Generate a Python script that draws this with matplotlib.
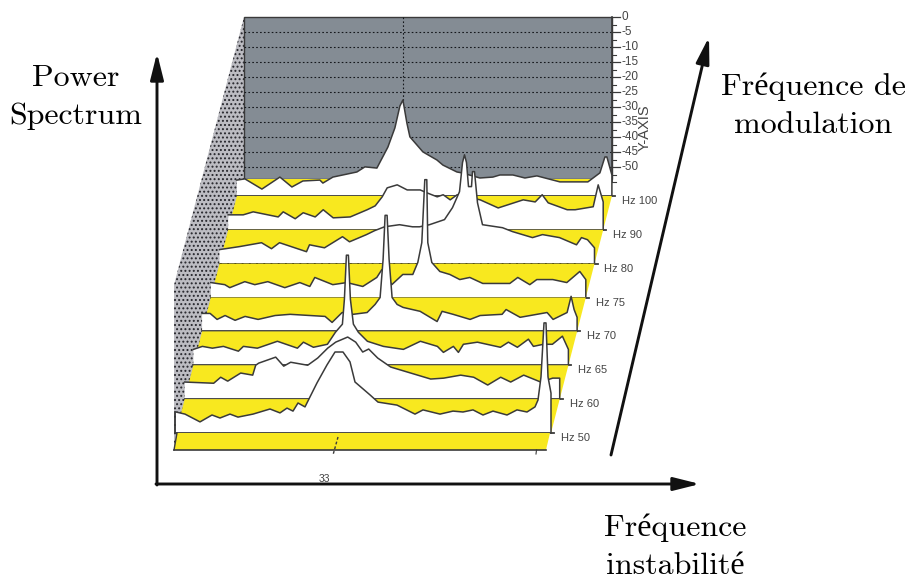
import matplotlib
matplotlib.use('Agg')
import matplotlib.pyplot as plt
from matplotlib.patches import Polygon

# modulation slices, front to back
slice_labels = ['Hz 50', 'Hz 60', 'Hz 65', 'Hz 70', 'Hz 75', 'Hz 80', 'Hz 90', 'Hz 100']

# spectra: frequency (Hz) and level above the noise floor (dB)
f50 = [0, 1.8, 4.8, 7.2, 8.8, 10.8, 12.4, 15.4, 18.8, 20.8, 22.2, 23.4, 24.4, 25.8, 28.2, 30.2, 31.8, 33.4, 34.8, 35.8, 38.8, 40.4, 44.2, 47.8, 49.4, 52.8, 55.4, 57.4, 59.4, 61.4, 63.4, 66.2, 68.2, 70.2, 71.8, 72.4, 73, 73.6, 74, 74.4, 75]
l50 = [7, 6.3, 3.7, 6, 5, 6.3, 5.3, 6.3, 8, 6.7, 8.3, 7.3, 10, 8.7, 16.7, 22.7, 27, 27, 23.7, 17, 12.7, 10.3, 9.3, 6.3, 7.7, 6.3, 7.3, 7, 7.7, 6, 7.3, 6, 7.7, 7, 8.7, 11, 18.7, 36.7, 36.7, 18.7, 13.3]

f60 = [0, 5.8, 7.2, 8.6, 11.2, 13.6, 14.2, 14.8, 18.2, 19.8, 21.2, 24.6, 26.6, 28.6, 30.2, 32.6, 34.2, 35.6, 36.8, 38.6, 41.2, 45.2, 49.2, 51.8, 55.2, 57.8, 60.6, 63.2, 65.2, 67.8, 71.2, 73.6, 75]
l60 = [5.7, 5.3, 7.3, 6, 8.7, 8, 11.3, 12, 14, 11, 12.3, 11.3, 13.7, 17, 19, 20.7, 19, 15.7, 16.7, 13.7, 10.7, 8.7, 6.7, 7, 8, 7.3, 4.7, 7.3, 5.7, 8, 5.7, 7, 7]

f65 = [0, 1.8, 3.8, 6, 9, 10, 12.8, 16.8, 20.8, 22, 24, 26.8, 28.4, 29.8, 30.2, 30.6, 31, 31.4, 32, 33, 34.8, 38, 42, 45.4, 48.8, 50, 52, 53, 54, 56.8, 61.4, 63, 64.8, 67, 68, 70, 71.8, 73.8, 75]
l65 = [5.3, 6.3, 5.7, 6.3, 4.7, 6.3, 5.7, 8, 5.7, 7.7, 6, 7, 11, 13.7, 22, 36.7, 36.7, 22, 13.7, 11, 8, 6.3, 5.3, 8, 6.3, 4.3, 6.3, 4.3, 7, 7.7, 6, 7.7, 6, 8.7, 6.3, 7, 7, 9.7, 5.3]

f70 = [0, 1.6, 3, 4.6, 6.6, 8.6, 11.2, 14.6, 17.6, 21.6, 24.6, 26, 28, 30.2, 33, 34.6, 35.6, 36.2, 36.6, 37, 37.4, 38, 39, 40.2, 43.6, 47, 48, 50.2, 53.6, 55.6, 60, 60.8, 63.6, 69, 70.2, 73, 73.8, 74.4, 75]
l70 = [6, 6, 4, 5.3, 3.7, 5, 4, 5.3, 5.7, 5.3, 5, 3, 6.3, 5.7, 6.3, 9, 11.3, 24, 38.7, 38.7, 24, 11.3, 9, 8, 6.7, 3.3, 6.7, 5.7, 4, 5.3, 5.7, 7.3, 4.7, 6.3, 4, 6.3, 11.7, 7.3, 4.7]

f75 = [0, 2.8, 3.8, 6.8, 8.8, 11.4, 14.8, 17.8, 19.8, 20.8, 24.4, 27.2, 30.4, 33.2, 34.2, 36.2, 38.4, 40.4, 41.4, 42.2, 42.8, 43.2, 43.4, 44.2, 45.8, 47.8, 49.8, 51.8, 54.4, 59.8, 61.4, 63.8, 65.2, 68.4, 71.2, 73.8, 75]
l75 = [5, 4.3, 3.3, 5.3, 4.3, 5.3, 3.3, 5, 3.7, 6.7, 4.3, 5, 3.7, 6.7, 9.3, 4.3, 7.7, 7.7, 11.7, 18.3, 39.3, 39.3, 18.3, 11.7, 8.7, 7.7, 6, 6.7, 4.7, 4.7, 6.7, 4.3, 6, 6, 5, 8.7, 6]

f80 = [0, 4, 8.4, 10.4, 12, 17.4, 18, 21, 24.6, 26, 29.4, 31, 33, 36, 38.6, 40, 42, 45, 46.6, 48, 48.6, 49, 49.4, 49.8, 50.4, 50.6, 51, 51.6, 52.6, 56.6, 58.6, 62.6, 64.6, 68, 71.4, 72.4, 73.6, 75]
l80 = [4.7, 5.7, 7, 5, 7, 4, 6.3, 5.3, 9, 7.3, 9.7, 11, 12.3, 13, 12.3, 12.3, 13, 14.7, 18.7, 24, 33.7, 36.3, 33.7, 25.7, 25.7, 30.7, 30.7, 20.3, 13, 12, 10.7, 8.7, 9.7, 8.7, 6.3, 8.7, 8, 5.3]

f90 = [0, 3, 5, 10, 11, 13.4, 15, 17.4, 19, 21, 24.4, 27.8, 29.4, 30.8, 31.8, 33.8, 35.8, 38.4, 39.8, 41.8, 43, 44.4, 45.8, 50.4, 54, 59, 61.4, 62.8, 64, 67.8, 69.4, 73, 74, 75]
l90 = [5, 5, 6, 4.3, 6, 3.7, 5.7, 4.3, 6.7, 4, 4.3, 6.7, 8, 11, 14, 15, 13.3, 13.3, 12.3, 11, 11.7, 10, 11.7, 10, 7.3, 10, 9.3, 11.7, 9, 6.7, 6.7, 7.7, 15, 9.3]

f100 = [0, 1.6, 5, 8.6, 11, 13.2, 16.6, 17.2, 19.2, 24, 25.6, 28, 30.2, 31.6, 32.6, 33.2, 34, 34.6, 37.2, 40, 41.2, 44, 45, 48.6, 51.2, 52.6, 55.2, 57.6, 60, 64.6, 67.6, 70.2, 72.6, 73.6, 74, 75]
l100 = [5.3, 5.7, 2.3, 6.3, 3, 5, 5.3, 4.3, 6.3, 8, 9.7, 9.3, 16.3, 22.7, 30, 32, 24.3, 19.7, 14.7, 12, 10.3, 8, 7.7, 6, 6.3, 7, 7, 6, 6.7, 4.7, 4.7, 4.7, 7.7, 13, 13, 7]

spectra = [(f50, l50), (f60, l60), (f65, l65), (f70, l70), (f75, l75), (f80, l80), (f90, l90), (f100, l100)]

db_ticks = [0, -5, -10, -15, -20, -25, -30, -35, -40, -45, -50]
db_minor = [-2.5, -7.5, -12.5, -17.5, -22.5, -27.5, -32.5, -37.5, -42.5, -47.5, -52.5, -55]

# waterfall layout
PX_HZ = 5.0
PX_DB = 3.0
LEFT0 = 176.0
BASE0 = 433.0
STEP_X = 8.7
STEP_Y = 33.86
SPAN = 75 * PX_HZ
WALL_LEFT = 244.0
WALL_BOTTOM = 179.0
WALL_RIGHT = 612.0
DB0_Y = 17.0

YELLOW = '#f8e81f'
WALL = '#848c94'
SIDE = '#bcbcc2'
LINE = '#3a3a3a'
TXT = '#444444'

fig = plt.figure(figsize=(9.10, 5.82), dpi=100)
ax = fig.add_axes([0, 0, 1, 1])
ax.set_xlim(0, 910)
ax.set_ylim(582, 0)
ax.axis('off')


def left_of(k):
    return LEFT0 + k * STEP_X


def base_of(k):
    return BASE0 - k * STEP_Y


def db_y(db):
    return DB0_Y - db * PX_DB


z = 1
plt.rcParams['hatch.linewidth'] = 0.9

# stippled side wall
ax.add_patch(Polygon([(WALL_LEFT, DB0_Y), (WALL_LEFT, WALL_BOTTOM), (LEFT0 + 2, BASE0), (174, 450), (174, 285)],
                     closed=True, facecolor=SIDE, edgecolor='#26262c', hatch='....', linewidth=0, zorder=z))

# back wall with its dB grid
ax.add_patch(Polygon([(WALL_LEFT, DB0_Y), (WALL_RIGHT, DB0_Y), (WALL_RIGHT, WALL_BOTTOM), (WALL_LEFT, WALL_BOTTOM)],
                     closed=True, facecolor=WALL, edgecolor=LINE, linewidth=1.0, zorder=z))
z += 1
for db in db_ticks[1:]:
    ax.plot([WALL_LEFT, WALL_RIGHT], [db_y(db), db_y(db)], color='#15181c', lw=0.8,
            ls=(0, (1.5, 2)), zorder=z)
ax.plot([403, 403], [DB0_Y, db_y(-28)], color='#15181c', lw=0.8, ls=(0, (1.5, 2)), zorder=z)

# y axis of the wall
ax.plot([WALL_RIGHT, WALL_RIGHT], [DB0_Y, db_y(-55)], color=LINE, lw=1.2, zorder=z)
for db in db_ticks:
    ax.plot([WALL_RIGHT, WALL_RIGHT + 8], [db_y(db), db_y(db)], color=LINE, lw=0.9, zorder=z)
    ax.text(WALL_RIGHT + 10, db_y(db), str(db), fontsize=8.5, family='Liberation Sans', color=TXT,
            ha='left', va='center', zorder=30)
for db in db_minor:
    ax.plot([WALL_RIGHT, WALL_RIGHT + 4], [db_y(db), db_y(db)], color=LINE, lw=0.8, zorder=z)
ax.text(645, 128, 'Y-AXIS', rotation=90, fontsize=10.5, family='Liberation Sans', color=TXT,
        ha='center', va='center', zorder=30)

# slices, painted from back to front
for k in range(len(spectra) - 1, -1, -1):
    freqs, levels = spectra[k]
    z += 1
    left = left_of(k)
    base = base_of(k)
    if k == len(spectra) - 1:
        back_left, back_right, back_y = WALL_LEFT, WALL_RIGHT, WALL_BOTTOM
    else:
        back_left, back_right, back_y = left_of(k + 1), left_of(k + 1) + SPAN, base_of(k + 1)
    ax.add_patch(Polygon([(left, base), (back_left, back_y), (back_right, back_y), (left + SPAN, base)],
                         closed=True, facecolor=YELLOW, edgecolor='none', zorder=z))
    xs = [left + PX_HZ * f for f in freqs]
    ys = [base - PX_DB * v for v in levels]
    outline = list(zip(xs, ys)) + [(left + SPAN, base), (left, base)]
    ax.add_patch(Polygon(outline, closed=True, facecolor='white', edgecolor='none', zorder=z))
    ax.plot(xs + [left + SPAN], ys + [base], color=LINE, lw=1.1, solid_joinstyle='round', zorder=z)
    ax.plot([left, left + SPAN + 3], [base, base], color=LINE, lw=1.3, zorder=z)
    if slice_labels[k] == 'Hz 80':
        ax.plot([left, left + SPAN], [base, base], color='#111111', lw=1.3, ls=(0, (1, 3)), zorder=z)
    ax.text(left + SPAN + 10, base + 5, slice_labels[k], fontsize=8, family='Liberation Sans',
            color=TXT, ha='left', va='center', zorder=30)

# front band
z += 1
ax.add_patch(Polygon([(LEFT0 + 1, BASE0), (LEFT0 + SPAN - 1, BASE0), (LEFT0 + SPAN - 5, 450), (174, 450)],
                     closed=True, facecolor=YELLOW, edgecolor='none', zorder=z))
ax.plot([174, LEFT0 + SPAN - 5], [450, 450], color=LINE, lw=1.2, zorder=z)
ax.plot([LEFT0 + 1, 174], [BASE0, 450], color=LINE, lw=1.0, zorder=z)
ax.plot([175, 175], [412, BASE0], color=LINE, lw=1.3, zorder=z)
ax.plot([338, 333], [437, 455], color=LINE, lw=1.0, ls=(0, (2, 1.5)), zorder=z)
ax.plot([536.5, 536], [450, 454], color=LINE, lw=0.8, zorder=z)
ax.text(324, 478.5, '33', fontsize=7.5, family='Liberation Sans', color=TXT, ha='center', va='center', zorder=30)

# hand drawn axes
arrow = dict(arrowstyle='-|>,head_length=0.8,head_width=0.2', color='#111111', lw=2.1,
             shrinkA=0, shrinkB=0, mutation_scale=20)
ax.annotate('', xy=(157, 53), xytext=(157, 485), arrowprops=arrow, zorder=40)
ax.annotate('', xy=(700, 484), xytext=(156, 484), arrowprops=arrow, zorder=40)
ax.annotate('', xy=(709, 37), xytext=(611, 455), arrowprops=arrow, zorder=40)

cm = ['cmr10', 'Liberation Serif']
ax.text(76, 97, 'Power\nSpectrum', family=cm, fontsize=23, ha='center', va='center', linespacing=1.48)
ax.text(813, 106, 'Fréquence de\nmodulation', family=cm, fontsize=23, ha='center', va='center', linespacing=1.48)
ax.text(675, 547, 'Fréquence\ninstabilité', family=cm, fontsize=23, ha='center', va='center', linespacing=1.48)

fig.savefig('out.png', dpi=100)
